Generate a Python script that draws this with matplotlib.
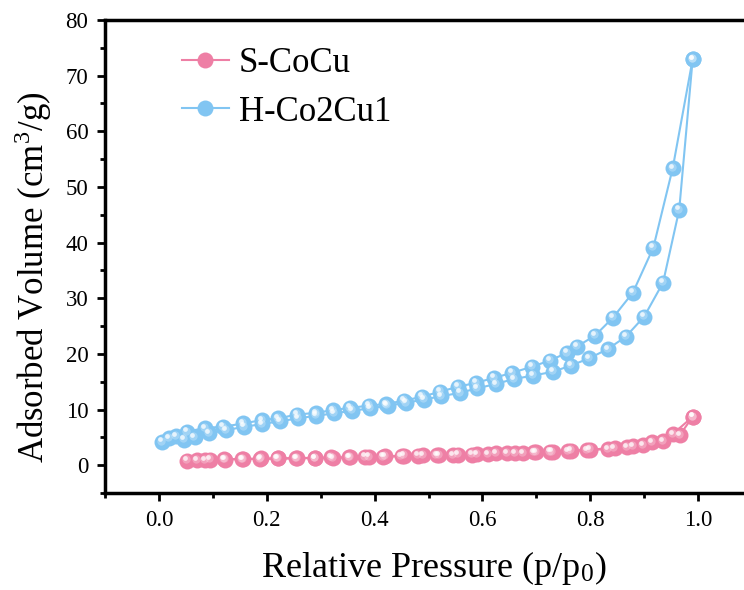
import matplotlib
matplotlib.use("Agg")
import matplotlib.pyplot as plt
import matplotlib.transforms as mtransforms
from matplotlib.ticker import MultipleLocator

# ---------------- data ----------------
s_ads_x = [0.052, 0.085, 0.122, 0.156, 0.187, 0.221, 0.256, 0.289, 0.323, 0.353,
           0.382, 0.416, 0.450, 0.480, 0.515, 0.546, 0.580, 0.610, 0.645, 0.676,
           0.700, 0.725, 0.759, 0.794, 0.833, 0.868, 0.898, 0.935, 0.966, 0.990]
s_ads_y = [0.8, 0.9, 1.0, 1.1, 1.1, 1.2, 1.2, 1.3, 1.3, 1.4,
           1.5, 1.5, 1.6, 1.7, 1.8, 1.8, 1.9, 2.0, 2.1, 2.2,
           2.3, 2.4, 2.5, 2.7, 2.9, 3.2, 3.6, 4.3, 5.4, 8.7]
s_des_x = [0.990, 0.953, 0.914, 0.880, 0.845, 0.800, 0.765, 0.730, 0.695, 0.660,
           0.625, 0.590, 0.555, 0.520, 0.490, 0.455, 0.420, 0.390, 0.355, 0.320,
           0.290, 0.255, 0.220, 0.190, 0.155, 0.120, 0.095, 0.070]
s_des_y = [8.7, 5.6, 4.1, 3.4, 3.1, 2.8, 2.6, 2.4, 2.3, 2.2,
           2.1, 2.0, 1.9, 1.8, 1.8, 1.7, 1.6, 1.5, 1.4, 1.4,
           1.3, 1.3, 1.2, 1.2, 1.1, 1.1, 1.0, 0.9]

h_ads_x = [0.005, 0.018, 0.032, 0.047, 0.066, 0.093, 0.125, 0.158, 0.192, 0.224,
           0.258, 0.292, 0.325, 0.358, 0.392, 0.424, 0.458, 0.491, 0.524, 0.558,
           0.590, 0.625, 0.659, 0.694, 0.731, 0.764, 0.798, 0.833, 0.866, 0.900,
           0.935, 0.965, 0.990]
h_ads_y = [4.2, 4.8, 5.2, 4.6, 5.0, 5.8, 6.3, 6.9, 7.4, 7.9,
           8.4, 8.9, 9.3, 9.8, 10.2, 10.7, 11.2, 11.8, 12.4, 13.0,
           13.8, 14.6, 15.5, 16.1, 16.8, 17.9, 19.2, 20.9, 23.1, 26.7,
           32.8, 45.9, 73.0]
h_des_x = [0.990, 0.953, 0.917, 0.879, 0.842, 0.809, 0.775, 0.757, 0.725, 0.692,
           0.655, 0.622, 0.588, 0.555, 0.521, 0.488, 0.455, 0.421, 0.390, 0.354,
           0.323, 0.291, 0.256, 0.221, 0.191, 0.156, 0.119, 0.085, 0.052]
h_des_y = [73.0, 53.4, 39.1, 31.0, 26.5, 23.3, 21.3, 20.2, 18.8, 17.7,
           16.6, 15.7, 14.8, 14.1, 13.2, 12.3, 11.6, 11.0, 10.7, 10.3,
           9.9, 9.4, 9.1, 8.4, 8.1, 7.5, 6.9, 6.7, 6.0]

labels = ["S-CoCu", "H-Co2Cu1"]
xticks = [0.0, 0.2, 0.4, 0.6, 0.8, 1.0]
yticks = [0, 10, 20, 30, 40, 50, 60, 70, 80]

pink = "#EE7FA5"
blue = "#81C5F2"

# ---------------- figure ----------------
plt.rcParams["font.family"] = ["Liberation Serif", "DejaVu Serif"]
plt.rcParams["mathtext.fontset"] = "stix"

fig = plt.figure(figsize=(7.44, 5.90), dpi=100)
ax = fig.add_axes([105 / 744, 1 - 493 / 590, (752 - 105) / 744, (493 - 20) / 590])

ms = 11.5
hl_off = mtransforms.ScaledTranslation(-1.5 / 72, 1.7 / 72, fig.dpi_scale_trans)
hl_off2 = mtransforms.ScaledTranslation(-0.8 / 72, 0.9 / 72, fig.dpi_scale_trans)


def sphere_series(xs, ys, color, label=None):
    ax.plot(xs, ys, "-", color=color, lw=1.5, marker="o", ms=ms,
            mfc=color, mec=color, mew=0, label=label, zorder=3)
    ax.plot(xs, ys, linestyle="none", marker="o", ms=6, mfc="white",
            mew=0, alpha=0.25, transform=ax.transData + hl_off2, zorder=4)
    ax.plot(xs, ys, linestyle="none", marker="o", ms=3.4, mfc="white",
            mew=0, alpha=0.75, transform=ax.transData + hl_off, zorder=5)


sphere_series(s_ads_x, s_ads_y, pink, labels[0])
sphere_series(s_des_x, s_des_y, pink)
sphere_series(h_ads_x, h_ads_y, blue, labels[1])
sphere_series(h_des_x, h_des_y, blue)

ax.set_xlim(-0.1, 1.1)
ax.set_ylim(-5, 80)
ax.set_xticks(xticks)
ax.set_yticks(yticks)
ax.xaxis.set_minor_locator(MultipleLocator(0.1))
ax.yaxis.set_minor_locator(MultipleLocator(5))
ax.tick_params(which="major", direction="out", length=6, width=2, labelsize=16.5, pad=6)
ax.tick_params(which="minor", direction="out", length=3.5, width=2)
for sp in ax.spines.values():
    sp.set_linewidth(2.5)

ax.set_xlabel("Relative Pressure (p/p$_\\mathregular{0}$)", fontsize=26, labelpad=13)
ax.xaxis.label.set_x(0.509)
ax.set_ylabel("Adsorbed Volume (cm$^\\mathregular{3}$/g)", fontsize=25, labelpad=8)
ax.yaxis.label.set_y(0.457)

leg = ax.legend(loc="upper left", bbox_to_anchor=(182 / 744, 1 - 47 / 590),
                bbox_transform=fig.transFigure, frameon=False, fontsize=25,
                handlelength=1.35, handletextpad=0.28, labelspacing=0.45,
                borderpad=0, borderaxespad=0)

fig.savefig("out.png", dpi=100)
